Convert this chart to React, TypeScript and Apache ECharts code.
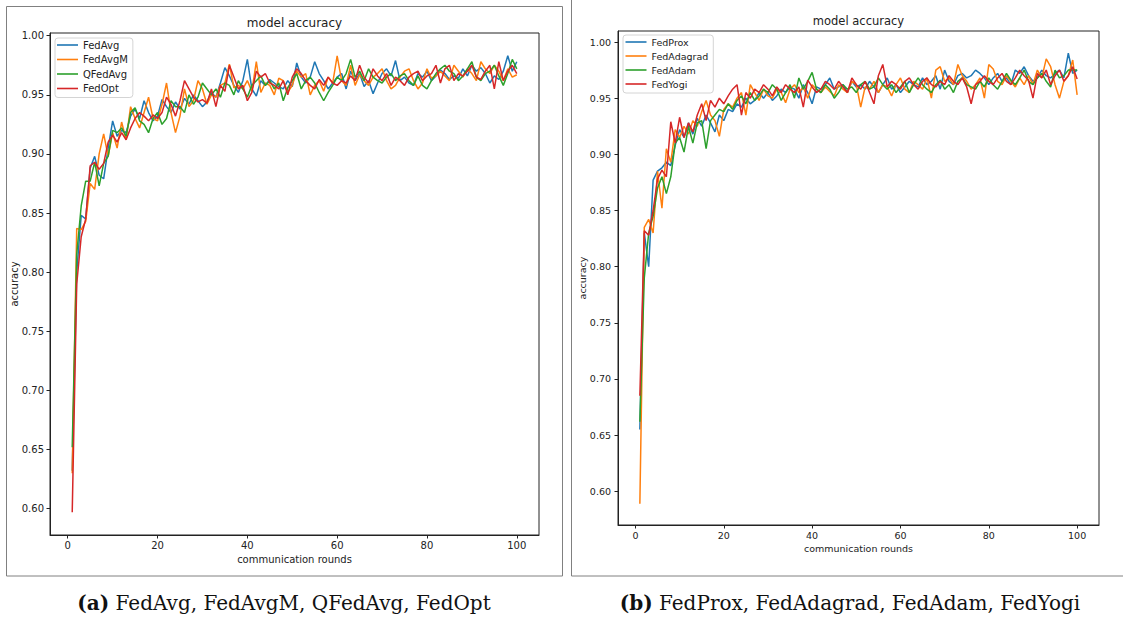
import React, { useEffect, useRef } from "react";
import * as echarts from "echarts";

const rounds: number[] = Array.from({ length: 100 }, (_, i) => i + 1);

const yTicks = [0.6, 0.65, 0.7, 0.75, 0.8, 0.85, 0.9, 0.95, 1.0];
const xTicks = [0, 20, 40, 60, 80, 100];

const namesA = ["FedAvg", "FedAvgM", "QFedAvg", "FedOpt"];
const namesB = ["FedProx", "FedAdagrad", "FedAdam", "FedYogi"];
const colors = ["#1f77b4", "#ff7f0e", "#2ca02c", "#d62728"];

const fedAvg = [
  0.632, 0.8, 0.848, 0.845, 0.888, 0.898, 0.882, 0.879, 0.905, 0.928,
  0.915, 0.92, 0.918, 0.932, 0.938, 0.93, 0.945, 0.935, 0.928, 0.932,
  0.946, 0.94, 0.935, 0.944, 0.938, 0.947, 0.942, 0.95, 0.945, 0.94,
  0.944, 0.952, 0.948, 0.96, 0.973, 0.966, 0.958, 0.952, 0.962, 0.98,
  0.955, 0.949, 0.962, 0.958, 0.963, 0.96, 0.957, 0.955, 0.962, 0.957,
  0.977, 0.965, 0.96, 0.965, 0.978, 0.968, 0.962, 0.955, 0.96, 0.965,
  0.968, 0.955, 0.97, 0.962, 0.968, 0.957, 0.962, 0.951, 0.96, 0.968,
  0.972, 0.966, 0.979, 0.962, 0.965, 0.96, 0.958, 0.968, 0.965, 0.97,
  0.962, 0.966, 0.971, 0.968, 0.963, 0.966, 0.964, 0.972, 0.966, 0.975,
  0.97, 0.973, 0.968, 0.96, 0.966, 0.963, 0.97, 0.983, 0.97, 0.978,
];
const fedAvgM = [
  0.63, 0.837, 0.836, 0.843, 0.875, 0.87, 0.9, 0.917, 0.898, 0.918,
  0.905, 0.927, 0.912, 0.94, 0.93, 0.922, 0.935, 0.948, 0.93, 0.928,
  0.942, 0.96, 0.935, 0.918, 0.932, 0.955, 0.94, 0.945, 0.962, 0.955,
  0.942, 0.95, 0.948, 0.958, 0.96, 0.976, 0.956, 0.958, 0.955, 0.962,
  0.953, 0.978, 0.952, 0.96, 0.958, 0.95, 0.964, 0.962, 0.952, 0.958,
  0.97, 0.965, 0.968, 0.95, 0.958, 0.962, 0.953, 0.965, 0.96, 0.983,
  0.962, 0.958, 0.975, 0.958, 0.967, 0.962, 0.958, 0.965, 0.968, 0.972,
  0.962, 0.955, 0.958, 0.965, 0.97, 0.972, 0.962, 0.955, 0.96, 0.972,
  0.964, 0.966, 0.97, 0.966, 0.962, 0.975, 0.97, 0.965, 0.972, 0.968,
  0.962, 0.978, 0.972, 0.968, 0.975, 0.97, 0.962, 0.972, 0.965, 0.967,
];
const qFedAvg = [
  0.652, 0.815, 0.856, 0.877, 0.877, 0.893, 0.873, 0.892, 0.898, 0.92,
  0.918, 0.922, 0.915, 0.935, 0.939, 0.928, 0.925, 0.918, 0.93, 0.935,
  0.925, 0.93, 0.945, 0.94, 0.94, 0.935, 0.95, 0.942, 0.948, 0.96,
  0.955, 0.95, 0.955, 0.948, 0.96, 0.958, 0.95, 0.962, 0.955, 0.948,
  0.958, 0.962, 0.966, 0.958, 0.962, 0.955, 0.96, 0.945, 0.956, 0.962,
  0.968, 0.955, 0.962, 0.965, 0.96, 0.952, 0.945, 0.952, 0.958, 0.965,
  0.962, 0.968, 0.98, 0.965, 0.97, 0.962, 0.972, 0.965, 0.962, 0.96,
  0.965, 0.968, 0.962, 0.966, 0.968, 0.962, 0.958, 0.966, 0.958, 0.955,
  0.962, 0.968, 0.972, 0.975, 0.97, 0.968, 0.962, 0.966, 0.972, 0.978,
  0.965, 0.962, 0.968, 0.97, 0.975, 0.966, 0.958, 0.968, 0.98, 0.972,
];
const fedOpt = [
  0.597, 0.79, 0.83, 0.845, 0.89, 0.893, 0.887, 0.892, 0.91, 0.916,
  0.91, 0.918, 0.912, 0.922, 0.93, 0.935, 0.932, 0.928, 0.933, 0.93,
  0.935, 0.948, 0.942, 0.932, 0.945, 0.962, 0.955, 0.948, 0.944, 0.946,
  0.943, 0.955, 0.94, 0.958, 0.953, 0.975, 0.965, 0.955, 0.958, 0.945,
  0.952, 0.97, 0.965, 0.968, 0.96, 0.958, 0.955, 0.962, 0.95, 0.965,
  0.972, 0.968, 0.962, 0.958, 0.955, 0.963, 0.958, 0.965, 0.96, 0.958,
  0.962, 0.96, 0.966, 0.962, 0.975, 0.965, 0.96, 0.972, 0.966, 0.962,
  0.968, 0.958, 0.965, 0.962, 0.958, 0.965, 0.968, 0.97, 0.962, 0.966,
  0.968, 0.975, 0.96, 0.972, 0.975, 0.962, 0.968, 0.966, 0.97, 0.975,
  0.965, 0.963, 0.97, 0.975, 0.955, 0.978, 0.962, 0.97, 0.975, 0.968,
];

const fedProx = [
  0.655, 0.83, 0.8, 0.877, 0.885, 0.888, 0.893, 0.89, 0.908, 0.922,
  0.915, 0.928, 0.918, 0.932, 0.925, 0.935, 0.928, 0.92, 0.935, 0.93,
  0.94, 0.938, 0.945, 0.942, 0.95, 0.945, 0.948, 0.955, 0.95, 0.955,
  0.948, 0.952, 0.958, 0.955, 0.96, 0.958, 0.95, 0.962, 0.955, 0.945,
  0.96, 0.958, 0.962, 0.968, 0.958, 0.96, 0.962, 0.955, 0.965, 0.96,
  0.962, 0.958, 0.965, 0.96, 0.955, 0.962, 0.968, 0.958, 0.962, 0.955,
  0.96, 0.965, 0.962, 0.96, 0.968, 0.962, 0.965, 0.97, 0.958, 0.975,
  0.965, 0.962, 0.97, 0.972, 0.968, 0.97, 0.975, 0.972, 0.968, 0.962,
  0.968, 0.972, 0.965, 0.968, 0.962, 0.975, 0.972, 0.978, 0.97, 0.965,
  0.968, 0.975, 0.97, 0.968, 0.972, 0.975, 0.968, 0.99, 0.972, 0.975,
];
const fedAdagrad = [
  0.589, 0.835, 0.842, 0.83, 0.885, 0.852, 0.905, 0.893, 0.922, 0.915,
  0.925, 0.918, 0.93, 0.925, 0.938, 0.948, 0.935, 0.93, 0.916, 0.94,
  0.945, 0.942, 0.95, 0.955, 0.935, 0.962, 0.955, 0.948, 0.958, 0.952,
  0.95, 0.958, 0.955, 0.946, 0.958, 0.962, 0.955, 0.96, 0.95, 0.962,
  0.958, 0.955, 0.96, 0.956, 0.952, 0.962, 0.958, 0.955, 0.965, 0.962,
  0.942, 0.96, 0.958, 0.965, 0.955, 0.962, 0.96, 0.952, 0.962, 0.968,
  0.958, 0.955, 0.965, 0.962, 0.958, 0.968, 0.95, 0.975, 0.978, 0.965,
  0.968, 0.962, 0.98, 0.97, 0.965, 0.958, 0.962, 0.968, 0.95, 0.98,
  0.976, 0.965, 0.962, 0.97, 0.965, 0.96, 0.968, 0.962, 0.97, 0.962,
  0.975, 0.968, 0.985, 0.978, 0.962, 0.95, 0.965, 0.97, 0.984, 0.953,
];
const fedAdam = [
  0.662, 0.79, 0.83, 0.845, 0.87, 0.88, 0.865, 0.88, 0.91, 0.915,
  0.902, 0.925, 0.91, 0.928, 0.93, 0.905, 0.93, 0.935, 0.94, 0.938,
  0.945, 0.94, 0.948, 0.952, 0.945, 0.955, 0.948, 0.952, 0.958, 0.955,
  0.962, 0.958, 0.948, 0.955, 0.962, 0.95, 0.968, 0.958, 0.965, 0.973,
  0.958, 0.955, 0.962, 0.958, 0.95, 0.955, 0.962, 0.958, 0.96, 0.955,
  0.962, 0.965, 0.958, 0.96, 0.968, 0.962, 0.958, 0.962, 0.955, 0.96,
  0.965, 0.955, 0.962, 0.968, 0.962, 0.958, 0.955, 0.962, 0.966, 0.958,
  0.962, 0.955, 0.965, 0.968, 0.962, 0.96, 0.958, 0.965, 0.96, 0.968,
  0.962, 0.958, 0.965, 0.972, 0.966, 0.962, 0.968, 0.975, 0.965, 0.962,
  0.968, 0.972, 0.965, 0.96, 0.975, 0.968, 0.97, 0.975, 0.975, 0.975,
];
const fedYogi = [
  0.685, 0.832, 0.828, 0.85, 0.878, 0.886, 0.88, 0.929, 0.91, 0.933,
  0.915, 0.928, 0.92, 0.935, 0.945, 0.93, 0.948, 0.942, 0.95, 0.945,
  0.952, 0.958, 0.962, 0.935, 0.955, 0.95, 0.958, 0.955, 0.962, 0.958,
  0.952, 0.96, 0.955, 0.962, 0.958, 0.955, 0.96, 0.942, 0.966, 0.96,
  0.955, 0.958, 0.965, 0.962, 0.958, 0.965, 0.96, 0.955, 0.968, 0.962,
  0.958, 0.965, 0.955, 0.945, 0.97, 0.98, 0.96, 0.965, 0.962, 0.958,
  0.965, 0.968, 0.962, 0.958, 0.965, 0.968, 0.962, 0.96, 0.965, 0.962,
  0.97, 0.965, 0.962, 0.968, 0.96, 0.945, 0.962, 0.965, 0.97, 0.965,
  0.962, 0.968, 0.972, 0.965, 0.962, 0.968, 0.975, 0.97, 0.966, 0.95,
  0.972, 0.968, 0.975, 0.962, 0.97, 0.975, 0.965, 0.97, 0.978, 0.967,
];

const seriesA = [fedAvg, fedAvgM, qFedAvg, fedOpt];
const seriesB = [fedProx, fedAdagrad, fedAdam, fedYogi];

const FONT = "DejaVu Sans";
const SERIF = "DejaVu Serif";
const INK = "#222";

const GA = { left: 50, top: 33, width: 489, height: 502 };
const GB = { left: 618, top: 31, width: 481, height: 494 };

function axisPair(idx: number, yMin: number, yMax: number, fs: number, ym: number) {
  const x = {
    type: "value",
    gridIndex: idx,
    min: -3.95,
    max: 104.95,
    axisLine: { show: true, onZero: false, lineStyle: { color: INK, width: 1 } },
    axisTick: { show: true, length: 3.5, inside: false, customValues: xTicks, lineStyle: { color: INK } },
    axisLabel: { show: true, customValues: xTicks, color: INK, fontSize: fs, fontFamily: FONT, margin: 5 },
    splitLine: { show: false },
  };
  const y = {
    type: "value",
    gridIndex: idx,
    min: yMin,
    max: yMax,
    axisLine: { show: true, onZero: false, lineStyle: { color: INK, width: 1 } },
    axisTick: { show: true, length: 3.5, inside: false, customValues: yTicks, lineStyle: { color: INK } },
    axisLabel: {
      show: true,
      customValues: yTicks,
      color: INK,
      fontSize: fs,
      fontFamily: FONT,
      margin: ym,
      formatter: (v: number) => v.toFixed(2),
    },
    splitLine: { show: false },
  };
  return { x, y };
}

export default function App() {
  const ref = useRef<HTMLDivElement>(null);
  useEffect(() => {
    document.body.style.margin = "0";
    const chart = echarts.init(ref.current!, undefined, { renderer: "svg" });
    const a = axisPair(0, 0.5777, 1.0023, 10, 6);
    const b = axisPair(1, 0.57, 1.0098, 9.5, 7);

    const mk = (names: string[], data: number[][], idx: number) =>
      names.map((n, i) => ({
        name: n,
        type: "line",
        xAxisIndex: idx,
        yAxisIndex: idx,
        data: rounds.map((r, k) => [r, data[i][k]]),
        symbol: "none",
        showSymbol: false,
        lineStyle: { color: colors[i], width: 1.5 },
        itemStyle: { color: colors[i] },
        z: 2 + i,
      }));

    const legendCommon = {
      orient: "vertical",
      icon: "rect",
      itemWidth: 21,
      itemHeight: 1.6,
      backgroundColor: "rgba(255,255,255,0.8)",
      borderColor: "#d4d4d4",
      borderWidth: 1,
      borderRadius: 3,
      selectedMode: false,
    };

    const caption = (x: number, label: string, rest: string) => ({
      type: "text",
      x,
      y: 603,
      style: {
        text: `{b|${label}} ${rest}`,
        font: `20px '${SERIF}'`,
        fill: "#111",
        textAlign: "center",
        textVerticalAlign: "middle",
        rich: { b: { fontWeight: "bold", fontSize: 20, fontFamily: SERIF, fill: "#111" } },
      },
    });

    chart.setOption({
      animation: false,
      backgroundColor: "#fff",
      grid: [
        { ...GA, show: true, borderColor: INK, borderWidth: 1, backgroundColor: "transparent" },
        { ...GB, show: true, borderColor: INK, borderWidth: 1, backgroundColor: "transparent" },
      ],
      xAxis: [a.x, b.x],
      yAxis: [a.y, b.y],
      legend: [
        {
          ...legendCommon,
          data: namesA,
          left: 55,
          top: 38,
          padding: [2, 5, 4, 2],
          itemGap: 4.5,
          textStyle: { color: INK, fontSize: 10, fontFamily: FONT, lineHeight: 10 },
        },
        {
          ...legendCommon,
          data: namesB,
          left: 623,
          top: 35,
          padding: [2, 5, 4, 2.5],
          itemGap: 4,
          textStyle: { color: INK, fontSize: 9.5, fontFamily: FONT, lineHeight: 10 },
        },
      ],
      series: [...mk(namesA, seriesA, 0), ...mk(namesB, seriesB, 1)],
      graphic: [
        { type: "rect", shape: { x: 6.5, y: 6.5, width: 556, height: 569.5 }, style: { fill: "none", stroke: "#808080", lineWidth: 1 }, silent: true },
        { type: "line", shape: { x1: 571.5, y1: 0, x2: 571.5, y2: 576 }, style: { stroke: "#808080", lineWidth: 1 }, silent: true },
        { type: "line", shape: { x1: 571.5, y1: 576, x2: 1123, y2: 576 }, style: { stroke: "#808080", lineWidth: 1 }, silent: true },
        { type: "text", x: 294.5, y: 23, style: { text: "model accuracy", font: `12px '${FONT}'`, fill: INK, textAlign: "center", textVerticalAlign: "middle" } },
        { type: "text", x: 858.5, y: 21, style: { text: "model accuracy", font: `11.5px '${FONT}'`, fill: INK, textAlign: "center", textVerticalAlign: "middle" } },
        { type: "text", x: 294.5, y: 559, style: { text: "communication rounds", font: `10px '${FONT}'`, fill: INK, textAlign: "center", textVerticalAlign: "middle" } },
        { type: "text", x: 858.5, y: 548, style: { text: "communication rounds", font: `9.5px '${FONT}'`, fill: INK, textAlign: "center", textVerticalAlign: "middle" } },
        { type: "text", x: 14, y: 284, rotation: Math.PI / 2, style: { text: "accuracy", font: `10px '${FONT}'`, fill: INK, textAlign: "center", textVerticalAlign: "middle" } },
        { type: "text", x: 582, y: 278, rotation: Math.PI / 2, style: { text: "accuracy", font: `9.5px '${FONT}'`, fill: INK, textAlign: "center", textVerticalAlign: "middle" } },
        caption(284, "(a)", "FedAvg, FedAvgM, QFedAvg, FedOpt"),
        caption(850, "(b)", "FedProx, FedAdagrad, FedAdam, FedYogi"),
      ],
    });
    return () => chart.dispose();
  }, []);
  return <div ref={ref} style={{ width: 1123, height: 621 }} />;
}
